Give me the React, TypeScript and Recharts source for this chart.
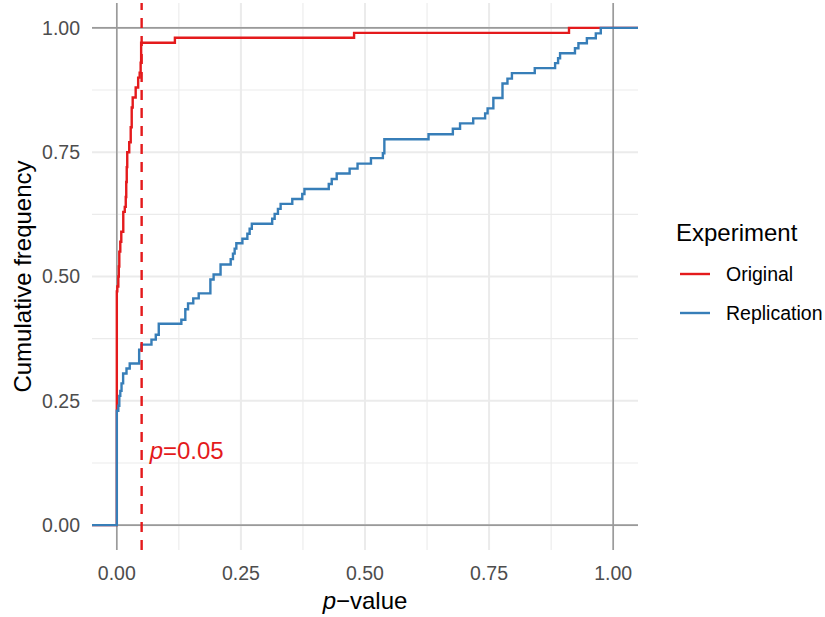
import React from 'react';
import { LineChart, Line, XAxis, YAxis, CartesianGrid, ReferenceLine, ReferenceDot } from 'recharts';

// ECDF step vertices (p-value, cumulative frequency)
const originalP = [-0.05, 0.0, 0.001, 0.003, 0.004, 0.005, 0.007, 0.009, 0.013, 0.016, 0.018, 0.019, 0.02, 0.021, 0.025, 0.028, 0.03, 0.032, 0.038, 0.043, 0.046, 0.048, 0.049, 0.117, 0.478, 0.911, 1.05];
const originalCum = [0, 0.47, 0.48, 0.5, 0.52, 0.55, 0.57, 0.59, 0.63, 0.64, 0.66, 0.69, 0.72, 0.75, 0.77, 0.8, 0.84, 0.86, 0.88, 0.9, 0.91, 0.93, 0.97, 0.98, 0.99, 1.0, 1.0];

const replicationP = [-0.05, 0.0, 0.003, 0.005, 0.007, 0.0095, 0.0127, 0.0195, 0.026, 0.045, 0.0497, 0.0698, 0.0785, 0.0845, 0.13, 0.138, 0.1435, 0.154, 0.165, 0.1885, 0.195, 0.209, 0.2294, 0.234, 0.2374, 0.2408, 0.253, 0.263, 0.2676, 0.272, 0.313, 0.318, 0.3246, 0.33, 0.3535, 0.3736, 0.378, 0.427, 0.433, 0.443, 0.469, 0.485, 0.512, 0.536, 0.539, 0.628, 0.677, 0.6915, 0.718, 0.742, 0.747, 0.7586, 0.777, 0.787, 0.796, 0.842, 0.883, 0.889, 0.893, 0.923, 0.93, 0.947, 0.965, 0.975, 1.05];
const replicationCum = [0, 0.23, 0.24, 0.26, 0.27, 0.285, 0.305, 0.315, 0.325, 0.353, 0.363, 0.373, 0.383, 0.405, 0.413, 0.434, 0.446, 0.456, 0.466, 0.494, 0.504, 0.524, 0.535, 0.546, 0.556, 0.567, 0.576, 0.586, 0.596, 0.606, 0.616, 0.626, 0.636, 0.646, 0.656, 0.666, 0.676, 0.686, 0.696, 0.707, 0.717, 0.727, 0.738, 0.748, 0.776, 0.786, 0.797, 0.808, 0.818, 0.828, 0.838, 0.859, 0.888, 0.898, 0.909, 0.919, 0.929, 0.939, 0.949, 0.959, 0.969, 0.979, 0.989, 1.0, 1.0];

const axisTicks = [0, 0.25, 0.5, 0.75, 1];
const minorTicks = [0.125, 0.375, 0.625, 0.875];
const refLines = [0, 1];
const thresholdP = 0.05;
const thresholdLabelF = 0.15;
const seriesNames = ['Original', 'Replication'];
const seriesColors = ['#E41A1C', '#377EB8'];
const legendTitle = 'Experiment';

const originalData = originalP.map((p, i) => ({ p, f: originalCum[i] }));
const replicationData = replicationP.map((p, i) => ({ p, f: replicationCum[i] }));

const FONT = '"Liberation Sans", Arial, Helvetica, sans-serif';

const PLabel = (props: any) => {
  const vb = props.viewBox || {};
  const x = (vb.x ?? 0) + (vb.width ?? 0) / 2;
  const y = (vb.y ?? 0) + (vb.height ?? 0) / 2;
  return (
    <text x={x + 8} y={y + 8} fill={seriesColors[0]} fontSize={24} fontFamily={FONT}>
      <tspan fontStyle="italic">p</tspan>
      <tspan>=0.05</tspan>
    </text>
  );
};

const XTitle = (props: any) => {
  const vb = props.viewBox || {};
  const cx = (vb.x ?? 0) + (vb.width ?? 0) / 2;
  return (
    <text x={cx} y={609} textAnchor="middle" fontSize={24} fontFamily={FONT} fill="#000">
      <tspan fontStyle="italic">p</tspan>
      <tspan>−value</tspan>
    </text>
  );
};

const YTitle = () => (
  <text
    x={22}
    y={276.5}
    textAnchor="middle"
    dominantBaseline="central"
    transform="rotate(-90, 22, 276.5)"
    fontSize={24}
    fontFamily={FONT}
    fill="#000"
  >
    Cumulative frequency
  </text>
);

export default function App() {
  return (
    <div style={{ position: 'absolute', left: 0, top: 0, width: 825, height: 617, background: '#fff' }}>
      <LineChart width={825} height={617} margin={{ top: 3, right: 187, bottom: 0, left: 0 }}>
        <CartesianGrid stroke="#EBEBEB" strokeWidth={1.1} horizontalValues={minorTicks} verticalValues={minorTicks} />
        <CartesianGrid stroke="#EBEBEB" strokeWidth={2} horizontalValues={axisTicks} verticalValues={axisTicks} />
        <CartesianGrid stroke="#9A9A9A" strokeWidth={1.6} horizontalValues={refLines} verticalValues={refLines} />
        <XAxis
          type="number"
          dataKey="p"
          domain={[-0.05, 1.05]}
          ticks={axisTicks}
          allowDataOverflow
          height={67}
          axisLine={false}
          tickLine={false}
          tickSize={0}
          tickMargin={16}
          tickFormatter={(v: number) => v.toFixed(2)}
          tick={{ fill: '#4D4D4D', fontSize: 19.5, fontFamily: FONT }}
          label={{ content: XTitle }}
        />
        <YAxis
          type="number"
          domain={[-0.05, 1.05]}
          ticks={axisTicks}
          allowDataOverflow
          width={92}
          axisLine={false}
          tickLine={false}
          tickSize={0}
          tickMargin={12}
          tickFormatter={(v: number) => v.toFixed(2)}
          tick={{ fill: '#4D4D4D', fontSize: 19.5, fontFamily: FONT }}
          label={{ content: YTitle }}
        />
        <Line
          data={originalData}
          dataKey="f"
          name={seriesNames[0]}
          type="stepAfter"
          stroke={seriesColors[0]}
          strokeWidth={2.4}
          dot={false}
          activeDot={false}
          isAnimationActive={false}
        />
        <Line
          data={replicationData}
          dataKey="f"
          name={seriesNames[1]}
          type="stepAfter"
          stroke={seriesColors[1]}
          strokeWidth={2.4}
          dot={false}
          activeDot={false}
          isAnimationActive={false}
        />
        <ReferenceLine x={thresholdP} stroke={seriesColors[0]} strokeWidth={2.4} strokeDasharray="10 8" />
        <ReferenceDot x={thresholdP} y={thresholdLabelF} r={0} fill="none" stroke="none" label={{ content: PLabel }} />
      </LineChart>
      <svg width={825} height={617} style={{ position: 'absolute', left: 0, top: 0, pointerEvents: 'none' }}>
        <text x={676} y={241} fontSize={24} fontFamily={FONT} fill="#000">{legendTitle}</text>
        {seriesNames.map((name, i) => (
          <g key={name}>
            <line x1={680} x2={710} y1={274 + i * 39} y2={274 + i * 39} stroke={seriesColors[i]} strokeWidth={2.4} />
            <text x={726} y={274 + i * 39 + 7} fontSize={19.5} fontFamily={FONT} fill="#000">{name}</text>
          </g>
        ))}
      </svg>
    </div>
  );
}
